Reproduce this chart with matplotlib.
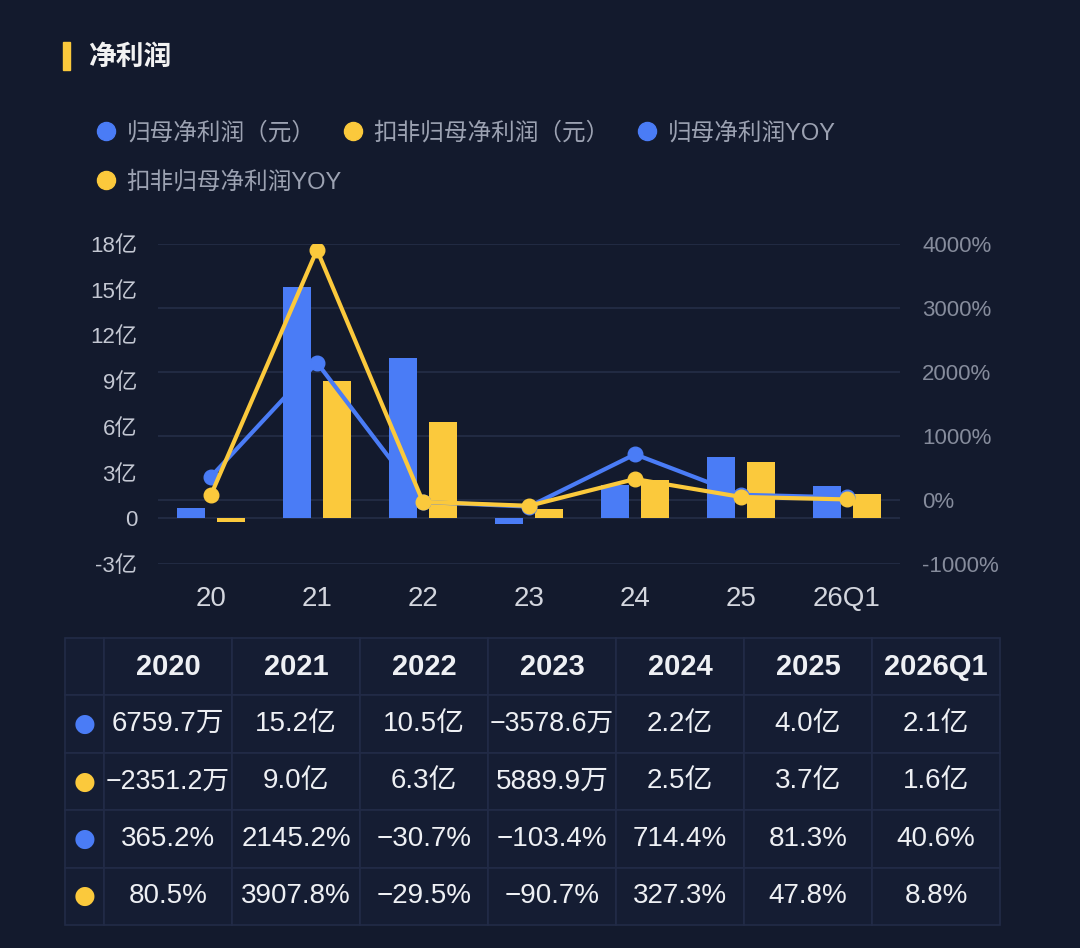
import numpy as np
import matplotlib.pyplot as plt
from matplotlib.lines import Line2D
from matplotlib.patches import Rectangle
from matplotlib.transforms import blended_transform_factory

plt.rcParams['font.family'] = ['Liberation Sans', 'Noto Sans CJK SC', 'DejaVu Sans']

# 数据
categories = ['20', '21', '22', '23', '24', '25', '26Q1']
years = ['2020', '2021', '2022', '2023', '2024', '2025', '2026Q1']
net_profit = [0.675970, 15.2, 10.5, -0.357860, 2.2, 4.0, 2.1]        # 亿元
net_profit_ex = [-0.235120, 9.0, 6.3, 0.588990, 2.5, 3.7, 1.6]       # 亿元
yoy = [365.2, 2145.2, -30.7, -103.4, 714.4, 81.3, 40.6]              # %
yoy_ex = [80.5, 3907.8, -29.5, -90.7, 327.3, 47.8, 8.8]              # %

row_net = ['6759.7万', '15.2亿', '10.5亿', '−3578.6万', '2.2亿', '4.0亿', '2.1亿']
row_net_ex = ['−2351.2万', '9.0亿', '6.3亿', '5889.9万', '2.5亿', '3.7亿', '1.6亿']
row_yoy = ['365.2%', '2145.2%', '−30.7%', '−103.4%', '714.4%', '81.3%', '40.6%']
row_yoy_ex = ['80.5%', '3907.8%', '−29.5%', '−90.7%', '327.3%', '47.8%', '8.8%']

left_ticks = [-3, 0, 3, 6, 9, 12, 15, 18]
right_ticks = [-1000, 0, 1000, 2000, 3000, 4000]

labels = ['归母净利润（元）', '扣非归母净利润（元）', '归母净利润YOY', '扣非归母净利润YOY']

# 颜色
bg = '#131a2d'
blue = '#4a7cf6'
yellow = '#fbc93c'
grid_c = '#212a42'
cell_bg = '#151d33'
cell_edge = '#222b47'

W, H = 1080, 948
fig = plt.figure(figsize=(W / 100, H / 100), dpi=100, facecolor=bg)

# 标题
fig.add_artist(Rectangle((63 / W, 1 - 70 / H), 7 / W, 28 / H,
                         transform=fig.transFigure, color=yellow))
fig.text(88 / W, 1 - 58 / H, '净利润', fontsize=20, color='#f2f2f2',
         va='center', ha='left', fontweight='bold')

# 图表
ax = fig.add_axes([158 / W, 1 - 564 / H, (900 - 158) / W, (564 - 244) / H])
ax.set_facecolor('none')
ax2 = ax.twinx()

x = np.arange(len(categories))
off, bw = 0.187, 0.27
ax.bar(x - off, net_profit, width=bw, color=blue, zorder=2)
ax.bar(x + off, net_profit_ex, width=bw, color=yellow, zorder=2)
ax.set_xlim(-0.5, len(categories) - 0.5)
ax.set_ylim(-3, 18)
ax2.set_ylim(-1000, 4000)

ax.set_yticks(left_ticks)
ax.set_yticklabels(['0' if v == 0 else f'{v}亿' for v in left_ticks])
ax2.set_yticks(right_ticks)
ax2.set_yticklabels([f'{v}%' for v in right_ticks])
ax.set_xticks(x)
ax.set_xticklabels(categories)

# 网格线（按右轴刻度）
tr = blended_transform_factory(ax.transAxes, ax2.transData)
for t in right_ticks:
    ax.plot([0, 1], [t, t], transform=tr, color=grid_c, lw=1.5, zorder=0)
ax.axhline(0, color=grid_c, lw=1.5, zorder=0)

ax2.plot(x, yoy, color=blue, lw=3, marker='o', ms=10.5, zorder=3)
ax2.plot(x, yoy_ex, color=yellow, lw=3, marker='o', ms=10.5, zorder=4)

for a in (ax, ax2):
    for s in a.spines.values():
        s.set_visible(False)
ax.tick_params(axis='y', length=0, pad=15, labelsize=16, labelcolor='#c3c7d2')
ax.tick_params(axis='x', length=0, pad=16, labelsize=20, labelcolor='#d3d6de')
ax2.tick_params(axis='y', length=0, pad=16, labelsize=16, labelcolor='#868c9c')

# 图例
def handle(c):
    return Line2D([], [], ls='none', marker='o', ms=13, color=c)

leg_kw = dict(frameon=False, fontsize=17, labelcolor='#9ca2b2',
              handlelength=0.8, handletextpad=0.45, columnspacing=1.2,
              borderpad=0, borderaxespad=0, loc='center left')
fig.legend([handle(blue), handle(yellow), handle(blue)], labels[:3], ncol=3,
           bbox_to_anchor=(97 / W, 1 - 133 / H), **leg_kw)
fig.legend([handle(yellow)], labels[3:], ncol=1,
           bbox_to_anchor=(97 / W, 1 - 182 / H), **leg_kw)

# 表格
tax = fig.add_axes([65 / W, 1 - 925 / H, (1000 - 65) / W, (925 - 638) / H])
tax.axis('off')
rows = [[''] + years,
        ['●'] + row_net,
        ['●'] + row_net_ex,
        ['●'] + row_yoy,
        ['●'] + row_yoy_ex]
dot_colors = [None, blue, yellow, blue, yellow]
first_w = 39
col_w = [first_w] + [(1000 - 104) / 7] * 7
tbl = tax.table(cellText=rows, colWidths=[w / sum(col_w) for w in col_w],
                cellLoc='center', bbox=[0, 0, 1, 1])
tbl.auto_set_font_size(False)
for (r, c), cell in tbl.get_celld().items():
    cell.set_facecolor(cell_bg)
    cell.set_edgecolor(cell_edge)
    cell.set_linewidth(1.2)
    txt = cell.get_text()
    if c == 0:
        txt.set_color(dot_colors[r] or 'white')
        txt.set_fontsize(18)
        txt.set_fontfamily(['DejaVu Sans'])
    else:
        txt.set_color('#eef0f4')
        txt.set_fontsize(21 if r == 0 else 20)
        if r == 0:
            txt.set_fontweight('bold')

# 过长的文字缩小到单元格内
fig.canvas.draw()
renderer = fig.canvas.get_renderer()
max_w = 124
for (r, c), cell in tbl.get_celld().items():
    if c == 0:
        continue
    txt = cell.get_text()
    w = txt.get_window_extent(renderer).width
    if w > max_w:
        txt.set_fontsize(txt.get_fontsize() * max_w / w)

fig.savefig('out.png', dpi=100, facecolor=bg)
